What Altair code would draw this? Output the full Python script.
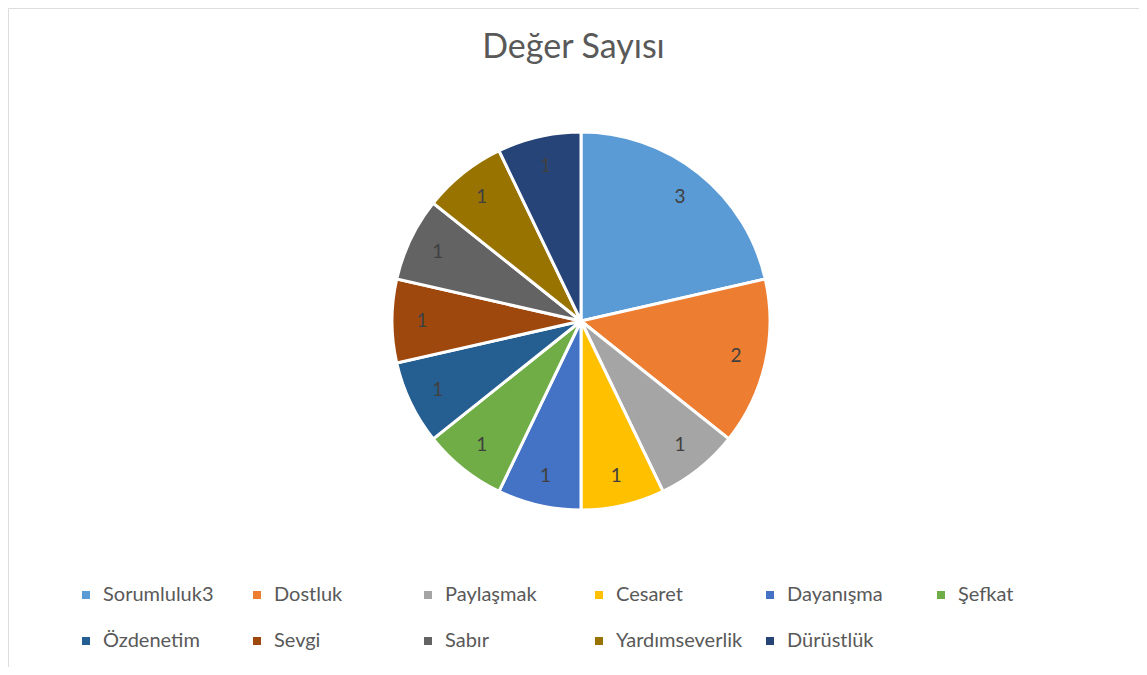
import altair as alt
import pandas as pd

names = ["Sorumluluk3", "Dostluk", "Paylaşmak", "Cesaret", "Dayanışma", "Şefkat",
         "Özdenetim", "Sevgi", "Sabır", "Yardımseverlik", "Dürüstlük"]
counts = [3, 2, 1, 1, 1, 1, 1, 1, 1, 1, 1]
colors = ["#5B9BD5", "#ED7D31", "#A5A5A5", "#FFC000", "#4472C4", "#70AD47",
          "#255E91", "#9E480E", "#636363", "#997300", "#264478"]

df = pd.DataFrame({"name": names, "count": counts, "idx": list(range(len(names)))})

W, H = 1131, 659
CX, CY = 573, 313
R = 189

base = alt.Chart(df).encode(
    theta=alt.Theta("count:Q", stack=True),
    order=alt.Order("idx:Q"),
    x=alt.value(CX),
    y=alt.value(CY),
)

pie = base.mark_arc(outerRadius=R, stroke="white", strokeWidth=3).encode(
    color=alt.Color(
        "name:N",
        sort=names,
        scale=alt.Scale(domain=names, range=colors),
        legend=alt.Legend(
            title=None,
            orient="none",
            legendX=68,
            legendY=577,
            direction="horizontal",
            columns=6,
            gridAlign="all",
            columnPadding=17,
            rowPadding=26,
            symbolType="square",
            symbolSize=64,
            symbolStrokeWidth=0,
            symbolOffset=0,
            labelOffset=7,
            labelFont="Lato",
            labelFontSize=20,
            labelColor="#595959",
            labelLimit=300,
        ),
    )
)

labels = base.mark_text(radius=159, font="Lato", fontSize=19, color="#404040").encode(
    text=alt.Text("count:Q")
)

chart = (
    alt.layer(pie, labels)
    .properties(
        width=W,
        height=H,
        autosize=alt.AutoSizeParams(type="none"),
        padding=0,
        title=alt.TitleParams(
            "Değer Sayısı",
            anchor="middle",
            offset=-84,
            font="Lato",
            fontSize=34,
            fontWeight="normal",
            color="#595959",
            baseline="alphabetic",
        ),
    )
    .configure_view(stroke="#D9D9D9", strokeWidth=1)
    .configure(background="white")
)

chart.save("out.html", embed_options={"renderer": "svg", "actions": False})
